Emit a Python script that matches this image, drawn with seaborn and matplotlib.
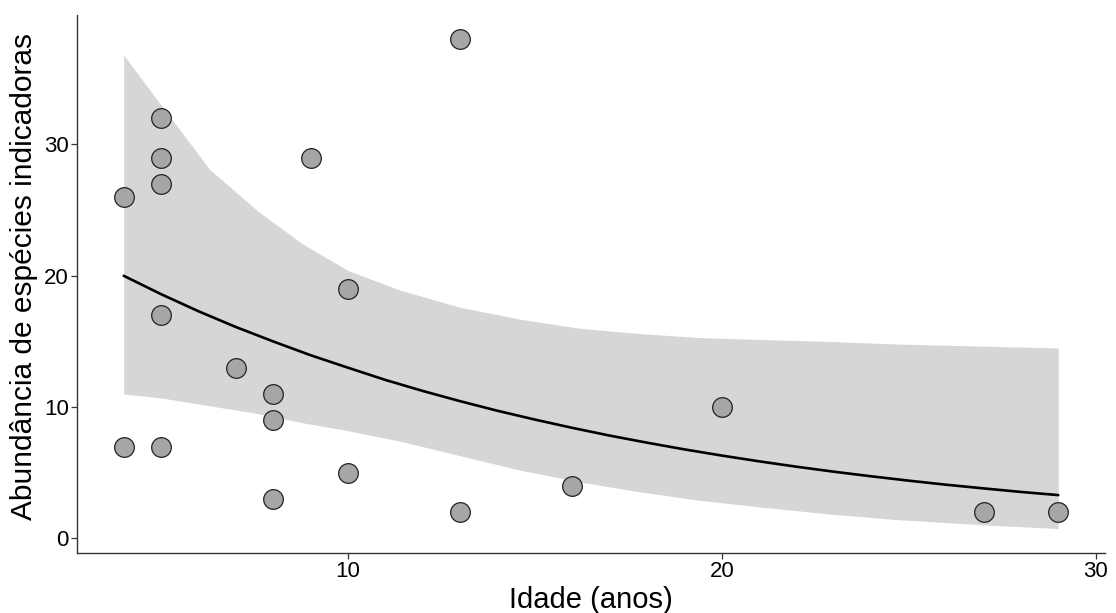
import numpy as np
import pandas as pd
import matplotlib
matplotlib.use("Agg")
import matplotlib.pyplot as plt
import seaborn as sns

idade = [4, 4, 5, 5, 5, 5, 5, 7, 8, 8, 8, 9, 10, 10, 13, 13, 16, 20, 27, 29]
abundancia = [26, 7, 32, 29, 27, 17, 7, 13, 11, 9, 3, 29, 19, 5, 38, 2, 4, 10, 2, 2]

# Fitted curve (at each year)
idade_curva = [4, 5, 6, 7, 8, 9, 10, 11, 12, 13, 14, 15, 16, 17, 18, 19, 20, 21,
               22, 23, 24, 25, 26, 27, 28, 29]
ajuste = [20.0, 18.6, 17.3, 16.1, 15.0, 13.95, 13.0, 12.07, 11.23, 10.45, 9.72,
          9.05, 8.42, 7.83, 7.29, 6.78, 6.31, 5.87, 5.46, 5.08, 4.73, 4.40, 4.09,
          3.81, 3.54, 3.30]

# Confidence band
idade_ic = [4, 5, 6.3, 7.6, 8.8, 10, 11.4, 13, 14.6, 16.2, 17.8, 19.4, 21, 22.9, 24.7, 26.9, 29]
ic_sup = [36.8, 33.0, 28.1, 24.9, 22.4, 20.4, 18.9, 17.6, 16.7, 16.0, 15.6, 15.3, 15.15, 15.0, 14.8, 14.65, 14.5]
ic_inf = [11.0, 10.7, 10.1, 9.5, 8.8, 8.2, 7.4, 6.3, 5.2, 4.3, 3.55, 2.9, 2.4, 1.85, 1.43, 1.05, 0.75]

x_ticks = [10, 20, 30]
y_ticks = [0, 10, 20, 30]

df = pd.DataFrame({"idade": idade, "abund": abundancia})
curva_df = pd.DataFrame({"idade": idade_curva, "fit": ajuste})
ic_df = pd.DataFrame({"idade": idade_ic, "lo": ic_inf, "hi": ic_sup})

sns.set_style("white")
plt.rcParams["font.family"] = ["Liberation Sans", "DejaVu Sans"]

fig = plt.figure(figsize=(11.16, 6.13), dpi=100)
ax = fig.add_axes([77 / 1116, 1 - 553 / 613, (1105 - 77) / 1116, (553 - 15) / 613])

ax.fill_between(ic_df["idade"], ic_df["lo"], ic_df["hi"], color="#d6d6d6",
                linewidth=0, zorder=1)
sns.lineplot(data=curva_df, x="idade", y="fit", ax=ax, color="black", linewidth=1.9,
             zorder=2)
sns.scatterplot(data=df, x="idade", y="abund", ax=ax, s=200, color="#a6a6a6",
                edgecolor="#222222", linewidth=0.9, zorder=3)

ax.set_xlim(2.75, 30.25)
ax.set_ylim(-1.11, 39.86)
ax.set_xticks(x_ticks)
ax.set_yticks(y_ticks)
ax.set_xlabel("Idade (anos)", fontsize=21, color="black", labelpad=3)
ax.set_ylabel("Abundância de espécies indicadoras", fontsize=21.5, color="black")
ax.yaxis.set_label_coords(-0.038, 0.514)
ax.tick_params(axis="both", labelsize=16, colors="#333333", length=4, width=0.9,
               direction="out", bottom=True, left=True, pad=2)
for lab in ax.get_xticklabels() + ax.get_yticklabels():
    lab.set_color("black")
for side in ["top", "right"]:
    ax.spines[side].set_visible(False)
for side in ["left", "bottom"]:
    ax.spines[side].set_color("#333333")
    ax.spines[side].set_linewidth(1.0)

fig.savefig("out.png", dpi=100)
